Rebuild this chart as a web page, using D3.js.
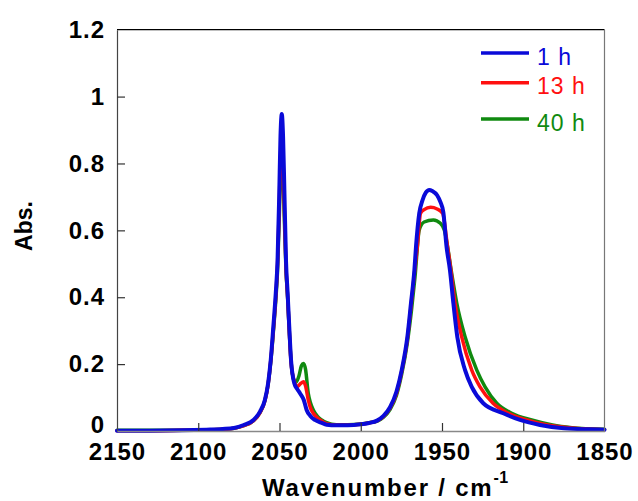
<!DOCTYPE html>
<html><head><meta charset="utf-8">
<script src="https://cdn.jsdelivr.net/npm/d3@7"></script>
<style>html,body{margin:0;padding:0;background:#fff;}svg{display:block;}</style>
</head><body>
<svg id="c" width="638" height="501"></svg>
<script>
// ---- data ----
const xTicks = [2150, 2100, 2050, 2000, 1950, 1900, 1850];
const yTicks = [0, 0.2, 0.4, 0.6, 0.8, 1, 1.2];
const seriesNames = ["1 h", "13 h", "40 h"];

const wn1h  = [2150,2130,2110,2095,2085,2078,2072,2066,2062,2059,2057,2055.4,2053.8,2052.3,2051.2,2050.2,2049.4,2048.6,2047.8,2047,2046,2045,2044,2042.9,2040.9,2039,2037.4,2035,2033.3,2031,2028.2,2024,2021,2015,2008,2000,1995,1990,1986,1982,1978,1974.8,1971.3,1969.1,1967,1966,1964,1962,1960,1957.8,1956,1953,1951,1949.2,1947.2,1945.1,1943,1940.6,1935.8,1931.7,1924.6,1912.3,1902,1889.7,1875,1860,1850];
const abs1h = [0.001,0.001,0.002,0.004,0.006,0.009,0.018,0.033,0.058,0.093,0.143,0.212,0.312,0.412,0.51,0.70,0.88,0.948,0.88,0.72,0.51,0.412,0.312,0.212,0.143,0.125,0.113,0.092,0.063,0.045,0.033,0.024,0.019,0.017,0.017,0.02,0.024,0.031,0.045,0.071,0.118,0.182,0.282,0.382,0.481,0.551,0.651,0.69,0.713,0.721,0.718,0.705,0.685,0.655,0.551,0.481,0.382,0.282,0.182,0.132,0.083,0.053,0.033,0.018,0.008,0.005,0.004];

const wn13h  = [2150,2130,2110,2095,2085,2078,2072,2066,2062,2059,2057,2055.4,2053.8,2052.3,2051.2,2050.2,2049.4,2048.6,2047.8,2047,2046,2045,2044,2042.9,2041,2039,2037,2035.2,2034,2032.3,2031,2029.2,2025,2021,2015,2008,2000,1995,1990,1986,1982,1978,1974.8,1971.3,1969.1,1967,1965.2,1963.2,1961,1957,1953,1949.6,1946.6,1944.5,1942,1937.9,1931.7,1926.6,1918.6,1909.2,1897.9,1885,1870,1850];
const abs13h = [0.001,0.001,0.002,0.003,0.005,0.008,0.016,0.031,0.055,0.09,0.14,0.21,0.30,0.40,0.50,0.66,0.82,0.865,0.81,0.66,0.49,0.40,0.30,0.205,0.15,0.133,0.142,0.147,0.135,0.093,0.07,0.053,0.033,0.022,0.018,0.018,0.02,0.024,0.03,0.043,0.068,0.113,0.178,0.275,0.372,0.47,0.551,0.651,0.662,0.669,0.664,0.651,0.551,0.48,0.382,0.282,0.182,0.132,0.083,0.053,0.033,0.018,0.009,0.004];

const wn40h  = [2150,2130,2110,2095,2085,2078,2072,2066,2062,2059,2057,2055.4,2053.8,2052.3,2051.2,2050.2,2049.4,2048.6,2047.8,2047,2046,2045,2044,2042.9,2041,2040,2038,2036.5,2035.2,2034,2032.3,2031,2029.2,2026.5,2024,2021,2015,2008,2000,1995,1990,1986,1982,1978,1974.8,1971.3,1968.8,1966.6,1964,1961,1955.3,1951,1948.6,1943.7,1940.9,1935.8,1928.6,1923.5,1916.3,1907.1,1894.8,1882,1870,1850];
const abs40h = [0.002,0.002,0.002,0.003,0.005,0.008,0.016,0.031,0.055,0.09,0.14,0.205,0.295,0.39,0.48,0.63,0.77,0.81,0.76,0.63,0.48,0.40,0.30,0.21,0.15,0.145,0.165,0.195,0.202,0.185,0.113,0.085,0.063,0.043,0.033,0.025,0.019,0.019,0.021,0.025,0.029,0.041,0.064,0.107,0.17,0.265,0.36,0.461,0.601,0.625,0.631,0.621,0.601,0.461,0.382,0.282,0.182,0.132,0.083,0.053,0.033,0.018,0.01,0.005];

// ---- layout ----
const colors = ["#0a0ad8", "#ff1010", "#108a10"];
const L = 117, R = 604.5, T = 29.7, B = 431;
const FONT = "'Liberation Sans', Arial, sans-serif";
const svg = d3.select("#c");
const x = d3.scaleLinear().domain([2150, 1850]).range([L, R]);
const y = d3.scaleLinear().domain([0, 1.2]).range([B, T]);

const series = [
  {name: seriesNames[0], wn: wn1h, v: abs1h, c: colors[0]},
  {name: seriesNames[1], wn: wn13h, v: abs13h, c: colors[1]},
  {name: seriesNames[2], wn: wn40h, v: abs40h, c: colors[2]}
];

const line = d3.line().x(d => x(d[0])).y(d => y(d[1])).curve(d3.curveMonotoneX);

// draw order: green, red, blue on top
[2, 1, 0].forEach(i => {
  const s = series[i];
  svg.append("path")
    .attr("d", line(s.wn.map((w, k) => [w, s.v[k]])))
    .attr("fill", "none").attr("stroke", s.c)
    .attr("stroke-width", i === 0 ? 4 : 3.5)
    .attr("stroke-linejoin", "round").attr("stroke-linecap", "round");
});

// frame
svg.append("line").attr("x1", L).attr("x2", R).attr("y1", T).attr("y2", T).attr("stroke", "#000").attr("stroke-width", 1.2);
svg.append("line").attr("x1", R).attr("x2", R).attr("y1", T).attr("y2", B).attr("stroke", "#777").attr("stroke-width", 1.2);

// axes
const yAxis = d3.axisLeft(y).tickValues(yTicks).tickSizeInner(-8).tickSizeOuter(0).tickPadding(12)
  .tickFormat(d => d3.format("~g")(d));
const gy = svg.append("g").attr("transform", `translate(${L},0)`).call(yAxis);
gy.select(".domain").attr("stroke", "#444").attr("stroke-width", 1.2);
gy.selectAll(".tick line").attr("stroke", "#333").attr("stroke-width", 1.2);
gy.selectAll(".tick").filter(d => d === 1.2 || d === 0).select("line").remove();
gy.selectAll("text").attr("font-family", FONT)
  .attr("font-weight", "bold").attr("font-size", 24).attr("letter-spacing", 1).attr("fill", "#000");
gy.selectAll(".tick").filter(d => d === 0).select("text").attr("dy", "0.08em");

const xAxis = d3.axisBottom(x).tickValues(xTicks).tickSizeInner(-8).tickSizeOuter(0).tickPadding(12)
  .tickFormat(d3.format("d"));
const gx = svg.append("g").attr("transform", `translate(0,${B})`).call(xAxis);
gx.select(".domain").attr("stroke", "#888").attr("stroke-width", 1.5);
gx.selectAll(".tick line").attr("stroke", "#333").attr("stroke-width", 1.2);
gx.selectAll(".tick").filter(d => d === 2150 || d === 1850).select("line").remove();
gx.selectAll("text").attr("font-family", FONT)
  .attr("font-weight", "bold").attr("font-size", 24).attr("letter-spacing", 1).attr("fill", "#000");

// axis titles
const xt = svg.append("text").attr("x", 262).attr("y", 496)
  .attr("font-family", FONT).attr("font-weight", "bold")
  .attr("font-size", 24).attr("letter-spacing", 1.8).attr("fill", "#000");
xt.append("tspan").text("Wavenumber / cm");
xt.append("tspan").attr("dy", -13).attr("font-size", 16).attr("letter-spacing", 0.5).text("-1");

svg.append("text").attr("transform", "translate(32,226) rotate(-90)")
  .attr("text-anchor", "middle")
  .attr("font-family", FONT).attr("font-weight", "bold")
  .attr("font-size", 23).attr("fill", "#000").text("Abs.");

// legend
const legY = [53, 82.7, 119];
series.forEach((s, i) => {
  svg.append("line").attr("x1", 481).attr("x2", 529).attr("y1", legY[i]).attr("y2", legY[i])
    .attr("stroke", s.c).attr("stroke-width", 3.5);
  svg.append("text").attr("x", 537).attr("y", legY[i] + 11.5)
    .attr("font-family", FONT).attr("font-size", 23)
    .attr("letter-spacing", 1).attr("fill", s.c).text(s.name);
});
</script>
</body></html>
